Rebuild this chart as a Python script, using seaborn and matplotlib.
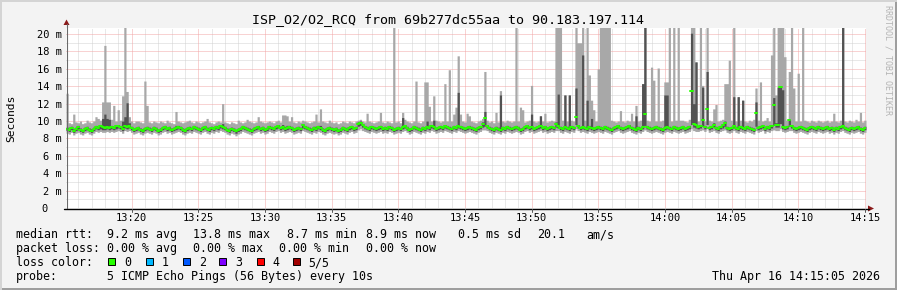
import numpy as np
import pandas as pd
import matplotlib
matplotlib.use("Agg")
import matplotlib.pyplot as plt
import matplotlib.transforms as mtransforms
from matplotlib.lines import Line2D
from matplotlib.patches import Rectangle, Polygon
import seaborn as sns

# ---------------- data ----------------
title = "ISP_O2/O2_RCQ from 69b277dc55aa to 90.183.197.114"
start_clock = "13:15:05"
end_clock = "14:15:05"
step_seconds = 10
x_tick_labels = ["13:20", "13:25", "13:30", "13:35", "13:40", "13:45",
                 "13:50", "13:55", "14:00", "14:05", "14:10", "14:15"]
y_tick_values = [0, 2, 4, 6, 8, 10, 12, 14, 16, 18, 20]
y_tick_labels = ["0", "2 m", "4 m", "6 m", "8 m", "10 m", "12 m", "14 m",
                 "16 m", "18 m", "20 m"]
y_label = "Seconds"
rtt_label = "median rtt:"
rtt_stats = ["9.2 ms avg", "13.8 ms max", "8.7 ms min", "8.9 ms now",
             "0.5 ms sd", "20.1", "am/s"]
loss_label = "packet loss:"
loss_stats = ["0.00 % avg", "0.00 % max", "0.00 % min", "0.00 % now"]
loss_color_label = "loss color:"
loss_names = ["0", "1", "2", "3", "4", "5/5"]
loss_colors = ["#26ff00", "#00b8ff", "#0059ff", "#7e00ff", "#ff0000", "#a10000"]
probe_label = "probe:"
probe_text = "5 ICMP Echo Pings (56 Bytes) every 10s"
timestamp = "Thu Apr 16 14:15:05 2026"
credit = "RRDTOOL / TOBI OETIKER"

# ping values per 10 s step, in units of 0.1 ms (sorted pings: min, 2nd, median, 4th, max)
median_01ms = [
    91, 90, 92, 89, 91, 93, 90, 88, 91, 92, 90, 89, 91, 93, 92, 94, 93, 92, 93, 92,
    93, 92, 94, 94, 93, 91, 94, 93, 94, 92, 90, 91, 92, 90, 89, 91, 92, 91, 90, 92,
    91, 89, 90, 92, 93, 91, 92, 90, 91, 92, 93, 92, 90, 89, 91, 92, 91, 93, 92, 91,
    90, 92, 93, 91, 90, 92, 91, 93, 92, 94, 93, 92, 90, 89, 91, 90, 88, 90, 91, 93,
    92, 91, 90, 89, 91, 92, 93, 91, 92, 90, 91, 93, 92, 91, 93, 94, 92, 93, 91, 92,
    93, 92, 90, 91, 92, 91, 95, 93, 92, 91, 90, 92, 91, 93, 92, 90, 89, 91, 92, 91,
    90, 91, 89, 90, 92, 91, 90, 92, 93, 91, 92, 97, 98, 95, 93, 92, 91, 93, 92, 91,
    92, 93, 91, 92, 91, 93, 92, 90, 91, 92, 91, 93, 94, 92, 90, 91, 93, 92, 91, 90,
    92, 91, 93, 92, 94, 93, 91, 92, 93, 92, 94, 93, 92, 91, 93, 92, 94, 93, 92, 91,
    92, 93, 92, 91, 90, 92, 93, 97, 103, 94, 92, 91, 90, 92, 91, 90, 92, 91, 93, 92,
    91, 92, 93, 92, 90, 91, 93, 94, 92, 93, 91, 92, 93, 94, 92, 93, 91, 92, 93, 92,
    97, 94, 92, 91, 93, 92, 91, 93, 92, 105, 94, 92, 93, 92, 91, 93, 92, 91, 92, 93,
    92, 91, 93, 92, 91, 90, 92, 93, 94, 92, 91, 92, 93, 94, 92, 91, 90, 92, 91, 93,
    108, 93, 92, 91, 92, 93, 92, 91, 90, 92, 93, 92, 91, 93, 92, 91, 92, 93, 91, 92,
    93, 134, 97, 96, 93, 94, 101, 93, 114, 92, 93, 96, 92, 91, 93, 95, 98, 92, 91, 92,
    94, 92, 91, 93, 92, 91, 93, 92, 91, 90, 109, 92, 93, 94, 91, 93, 92, 94, 119, 96,
    95, 139, 93, 92, 93, 101, 94, 92, 91, 92, 93, 92, 91, 90, 92, 93, 92, 91, 93, 92,
    91, 92, 93, 91, 92, 90, 92, 91, 93, 94, 92, 91, 90, 92, 91, 92, 93, 91, 90, 92,
]
max_01ms = [
    132, 98, 97, 108, 99, 98, 100, 97, 98, 101, 99, 98, 100, 105, 103, 101, 122, 187, 122, 122,
    102, 118, 100, 113, 101, 129, 250, 134, 105, 100, 98, 100, 100, 99, 98, 146, 118, 99, 98, 100,
    99, 98, 100, 99, 98, 101, 99, 98, 97, 111, 100, 99, 98, 99, 100, 101, 99, 98, 100, 99,
    98, 99, 100, 103, 99, 98, 97, 99, 100, 99, 120, 99, 98, 97, 99, 98, 97, 101, 99, 98,
    99, 102, 100, 99, 98, 99, 105, 100, 99, 98, 99, 100, 99, 98, 100, 101, 99, 107, 107, 106,
    100, 105, 99, 98, 100, 99, 101, 100, 99, 98, 99, 100, 108, 99, 114, 100, 99, 98, 101, 99,
    98, 99, 97, 98, 100, 99, 98, 100, 99, 98, 100, 101, 102, 100, 99, 109, 100, 99, 98, 99,
    100, 110, 99, 98, 100, 99, 98, 250, 99, 100, 98, 110, 102, 100, 99, 98, 100, 146, 99, 98,
    100, 145, 145, 117, 100, 129, 101, 100, 99, 100, 143, 100, 159, 100, 108, 116, 175, 108, 100, 99,
    109, 106, 100, 99, 98, 100, 101, 103, 157, 101, 99, 100, 98, 110, 99, 135, 100, 99, 101, 100,
    99, 100, 250, 100, 116, 113, 99, 100, 101, 141, 100, 99, 100, 106, 100, 109, 99, 100, 101, 100,
    250, 250, 250, 101, 130, 100, 130, 101, 100, 250, 190, 190, 250, 101, 250, 153, 124, 113, 100, 160,
    250, 250, 250, 250, 250, 101, 100, 99, 100, 112, 100, 99, 101, 100, 109, 100, 118, 100, 101, 143,
    250, 101, 100, 162, 147, 100, 161, 100, 101, 145, 145, 250, 100, 250, 101, 250, 101, 101, 100, 99,
    102, 250, 250, 168, 100, 250, 141, 100, 250, 101, 100, 114, 119, 100, 101, 102, 143, 143, 170, 101,
    250, 100, 128, 101, 124, 100, 99, 101, 100, 102, 138, 101, 145, 100, 101, 104, 100, 176, 250, 130,
    250, 250, 250, 174, 101, 157, 250, 138, 100, 155, 100, 250, 101, 100, 99, 101, 100, 99, 101, 100,
    99, 100, 101, 99, 100, 109, 100, 99, 101, 250, 100, 99, 101, 100, 99, 102, 100, 110, 99, 101,
]
high_01ms = [
    93, 92, 94, 91, 93, 95, 92, 90, 93, 94, 92, 91, 93, 95, 94, 96, 103, 108, 103, 102,
    95, 94, 96, 96, 95, 100, 105, 121, 98, 94, 92, 93, 94, 92, 91, 93, 94, 93, 92, 94,
    93, 91, 92, 94, 95, 93, 94, 92, 93, 95, 95, 94, 92, 91, 93, 94, 93, 95, 94, 93,
    92, 94, 95, 93, 92, 94, 93, 95, 94, 96, 97, 94, 92, 91, 93, 92, 90, 92, 93, 95,
    94, 93, 92, 91, 93, 94, 95, 93, 94, 92, 93, 95, 94, 93, 95, 96, 94, 96, 94, 95,
    95, 94, 92, 93, 94, 93, 97, 95, 94, 93, 92, 94, 94, 95, 95, 92, 91, 93, 94, 93,
    92, 93, 91, 92, 94, 93, 92, 94, 95, 93, 94, 99, 100, 97, 95, 94, 93, 95, 94, 93,
    94, 95, 93, 94, 93, 95, 94, 92, 93, 94, 93, 104, 96, 94, 92, 93, 95, 94, 93, 92,
    94, 93, 100, 94, 96, 101, 93, 94, 95, 94, 96, 95, 94, 93, 95, 94, 133, 95, 94, 93,
    94, 95, 94, 93, 92, 94, 95, 99, 111, 96, 94, 93, 92, 94, 93, 130, 94, 93, 95, 94,
    93, 94, 95, 94, 92, 93, 95, 96, 94, 108, 93, 94, 95, 106, 94, 95, 93, 94, 95, 94,
    99, 131, 94, 93, 130, 94, 130, 95, 94, 138, 96, 94, 176, 94, 124, 95, 103, 93, 94, 95,
    94, 93, 95, 94, 93, 92, 94, 95, 96, 94, 93, 94, 95, 96, 94, 93, 106, 94, 93, 143,
    250, 95, 94, 93, 94, 95, 94, 93, 92, 130, 130, 94, 93, 95, 94, 93, 94, 95, 93, 94,
    95, 201, 120, 168, 95, 96, 139, 95, 157, 94, 95, 98, 94, 93, 95, 97, 100, 94, 93, 94,
    128, 94, 128, 95, 124, 93, 95, 94, 93, 92, 122, 94, 95, 96, 93, 95, 94, 96, 127, 98,
    139, 139, 136, 94, 95, 102, 96, 94, 93, 94, 95, 94, 93, 92, 94, 95, 94, 93, 95, 94,
    93, 94, 95, 93, 94, 92, 94, 93, 95, 250, 94, 93, 92, 94, 93, 94, 95, 93, 92, 94,
]
low_01ms = [
    89, 88, 90, 87, 89, 90, 88, 87, 89, 90, 88, 87, 89, 91, 90, 91, 90, 90, 91, 90,
    91, 90, 91, 92, 91, 89, 92, 91, 92, 90, 88, 89, 90, 88, 87, 89, 90, 89, 88, 90,
    89, 87, 88, 90, 91, 89, 90, 88, 89, 90, 91, 90, 88, 87, 89, 90, 89, 91, 90, 89,
    88, 90, 91, 89, 88, 90, 89, 91, 90, 92, 91, 90, 88, 87, 89, 88, 86, 88, 89, 91,
    90, 89, 88, 87, 89, 90, 91, 89, 90, 88, 89, 91, 90, 89, 91, 92, 90, 91, 89, 90,
    91, 90, 88, 89, 90, 89, 92, 91, 90, 89, 88, 90, 89, 91, 90, 88, 87, 89, 90, 89,
    88, 89, 87, 88, 90, 89, 88, 90, 91, 89, 90, 94, 95, 93, 91, 90, 89, 91, 90, 89,
    90, 91, 89, 90, 89, 91, 90, 88, 89, 90, 89, 91, 92, 90, 88, 89, 91, 90, 89, 88,
    90, 89, 91, 90, 92, 91, 89, 90, 91, 90, 92, 91, 90, 89, 91, 90, 92, 91, 90, 89,
    90, 91, 90, 89, 88, 90, 91, 93, 94, 92, 90, 89, 88, 90, 89, 88, 90, 89, 91, 90,
    89, 90, 91, 90, 88, 89, 91, 92, 90, 91, 89, 90, 91, 92, 90, 91, 89, 90, 91, 90,
    93, 92, 90, 89, 91, 90, 89, 91, 90, 96, 92, 90, 91, 90, 89, 91, 90, 89, 90, 91,
    90, 89, 91, 90, 89, 88, 90, 91, 92, 90, 89, 90, 91, 92, 90, 89, 88, 90, 89, 91,
    95, 91, 90, 89, 90, 91, 90, 89, 88, 90, 91, 90, 89, 91, 90, 89, 90, 91, 89, 90,
    91, 96, 93, 92, 91, 92, 94, 91, 96, 90, 91, 93, 90, 89, 91, 92, 94, 90, 89, 90,
    92, 90, 89, 91, 90, 89, 91, 90, 89, 88, 94, 90, 91, 92, 89, 91, 90, 92, 95, 93,
    93, 97, 91, 90, 91, 94, 92, 90, 89, 90, 91, 90, 89, 88, 90, 91, 90, 89, 91, 90,
    89, 90, 91, 89, 90, 88, 90, 89, 91, 92, 90, 89, 88, 90, 89, 90, 91, 89, 88, 90,
]
min_01ms = [
    86, 85, 87, 84, 86, 87, 85, 84, 86, 87, 85, 84, 86, 88, 87, 88, 87, 87, 88, 87,
    88, 87, 88, 89, 88, 86, 89, 88, 89, 87, 85, 86, 87, 85, 84, 86, 87, 86, 85, 87,
    86, 84, 85, 87, 88, 86, 87, 85, 86, 87, 88, 87, 85, 84, 86, 87, 86, 88, 87, 86,
    85, 87, 88, 86, 85, 87, 86, 88, 87, 89, 88, 87, 85, 84, 86, 85, 83, 85, 86, 88,
    87, 86, 85, 84, 86, 87, 88, 86, 87, 85, 86, 88, 87, 86, 88, 89, 87, 88, 86, 87,
    88, 87, 85, 86, 87, 86, 89, 88, 87, 86, 85, 87, 86, 88, 87, 85, 84, 86, 87, 86,
    85, 86, 84, 85, 87, 86, 85, 87, 88, 86, 87, 90, 91, 89, 88, 87, 86, 88, 87, 86,
    87, 88, 86, 87, 86, 88, 87, 85, 86, 87, 86, 88, 89, 87, 85, 86, 88, 87, 86, 85,
    87, 86, 88, 87, 89, 88, 86, 87, 88, 87, 89, 88, 87, 86, 88, 87, 89, 88, 87, 86,
    87, 88, 87, 86, 85, 87, 88, 90, 90, 89, 87, 86, 85, 87, 86, 85, 87, 86, 88, 87,
    86, 87, 88, 87, 85, 86, 88, 89, 87, 88, 86, 87, 88, 89, 87, 88, 86, 87, 88, 87,
    89, 89, 87, 86, 88, 87, 86, 88, 87, 91, 89, 87, 88, 87, 86, 88, 87, 86, 87, 88,
    87, 86, 88, 87, 86, 85, 87, 88, 89, 87, 86, 87, 88, 89, 87, 86, 85, 87, 86, 88,
    90, 88, 87, 86, 87, 88, 87, 86, 85, 87, 88, 87, 86, 88, 87, 86, 87, 88, 86, 87,
    88, 91, 89, 88, 88, 89, 90, 88, 91, 87, 88, 89, 87, 86, 88, 89, 90, 87, 86, 87,
    89, 87, 86, 88, 87, 86, 88, 87, 86, 85, 89, 87, 88, 89, 86, 88, 87, 89, 90, 89,
    89, 91, 88, 87, 88, 89, 89, 87, 86, 87, 88, 87, 86, 85, 87, 88, 87, 86, 88, 87,
    86, 87, 88, 86, 87, 85, 87, 86, 88, 89, 87, 86, 85, 87, 86, 87, 88, 86, 85, 87,
]

# ---------------- helpers ----------------
def clock_seconds(s):
    parts = [int(p) for p in s.split(":")]
    while len(parts) < 3:
        parts.append(0)
    return parts[0] * 3600 + parts[1] * 60 + parts[2]

t_start = clock_seconds(start_clock)
total = clock_seconds(end_clock) - t_start
p_min = np.array(min_01ms) / 10.0
p_low = np.array(low_01ms) / 10.0
p_med = np.array(median_01ms) / 10.0
p_high = np.array(high_01ms) / 10.0
p_max = np.array(max_01ms) / 10.0
n = len(p_med)
t = np.arange(n) * step_seconds

W, H = 897, 290
MONO = "DejaVu Sans Mono"
Y_TOP = 20.7

sns.set_style("white")
fig = plt.figure(figsize=(W / 100, H / 100), dpi=100)
fig.patch.set_facecolor("#f3f3f3")


def fx(px):
    return px / W


def fy(py):
    return 1 - py / H


# frame shading
fig.add_artist(Rectangle((0, 0), 1, fy(288), transform=fig.transFigure, color="#9e9e9e", lw=0))
fig.add_artist(Rectangle((fx(895), 0), fx(2), 1, transform=fig.transFigure, color="#9e9e9e", lw=0))
fig.add_artist(Rectangle((0, fy(2)), 1, 2 / H, transform=fig.transFigure, color="#d4d4d4", lw=0))
fig.add_artist(Rectangle((0, 0), fx(2), 1, transform=fig.transFigure, color="#d4d4d4", lw=0))

ax = fig.add_axes([fx(66), fy(208), 800 / W, 180 / H])
ax.set_facecolor("white")
for sp in ax.spines.values():
    sp.set_visible(False)
ax.set_xlim(0, total)
ax.set_ylim(0, Y_TOP)

# grid
first_min = (60 - t_start % 60) % 60
first_5min = (300 - t_start % 300) % 300
minor_x = [v for v in range(first_min, total, 60) if (v - first_5min) % 300 != 0]
major_x = list(range(first_5min, total, 300))
minor_y = [v for v in range(1, int(Y_TOP) + 1) if v % 2 == 1]
major_y = [v for v in y_tick_values if v > 0]
dots = (0, (1, 1))
ax.vlines(minor_x, 0, Y_TOP, colors="#d2d2d2", linestyles=dots, lw=0.72, zorder=0)
ax.hlines(minor_y, 0, total, colors="#d2d2d2", linestyles=dots, lw=0.72, zorder=0)
ax.vlines(major_x, 0, Y_TOP, colors="#f2a6a6", linestyles=dots, lw=0.72, zorder=1)
ax.hlines(major_y, 0, total, colors="#f2a6a6", linestyles=dots, lw=0.72, zorder=1)

# smoke
xe = np.append(t, total)


def ext(a):
    return np.append(a, a[-1])


ax.fill_between(xe, ext(p_min), ext(p_max), step="post", color="#a8a8a8", lw=0, zorder=2)
ax.fill_between(xe, ext(p_low), ext(p_high), step="post", color="#525252", lw=0, zorder=3)

# median markers (one short segment per step)
med_df = pd.DataFrame({
    "t": np.concatenate([t, t + step_seconds]),
    "ms": np.concatenate([p_med, p_med]),
    "unit": np.concatenate([np.arange(n), np.arange(n)]),
})
sns.lineplot(data=med_df, x="t", y="ms", units="unit", estimator=None, sort=False,
             color=loss_colors[0], linewidth=1.45, ax=ax, legend=False, zorder=4)
ax.set_xticks([])
ax.set_yticks([])
ax.set_xlabel("")
ax.set_ylabel("")

# axes lines and arrows
fig.add_artist(Line2D([fx(66.5), fx(66.5)], [fy(208), fy(24)], color="#6a6a6a", lw=0.8))
fig.add_artist(Line2D([fx(64), fx(869)], [fy(208.5), fy(208.5)], color="black", lw=1.0))
fig.add_artist(Polygon([(fx(63.5), fy(25)), (fx(69.5), fy(25)), (fx(66.5), fy(19.5))],
                       closed=True, color="#8b1a1a", lw=0))
fig.add_artist(Polygon([(fx(868), fy(205.5)), (fx(868), fy(211.5)), (fx(874), fy(208.5))],
                       closed=True, color="#8b1a1a", lw=0))

# x tick marks + labels
bx = mtransforms.blended_transform_factory(ax.transData, fig.transFigure)
for lab in x_tick_labels:
    xv = clock_seconds(lab) - t_start
    fig.add_artist(Line2D([xv, xv], [fy(209), fy(211.5)], transform=bx, color="#555555", lw=0.7))
    fig.text(xv, fy(221), lab, transform=bx, ha="center", va="baseline",
             fontsize=7.5, family=MONO, color="black")

# y tick labels
by = mtransforms.blended_transform_factory(fig.transFigure, ax.transData)
for v, lab in zip(y_tick_values, y_tick_labels):
    if lab.strip() == "0":
        fig.text(fx(44.5), v, lab, transform=by, ha="center", va="center_baseline",
                 fontsize=7.5, family=MONO, color="black")
    else:
        fig.text(fx(61.5), v, lab, transform=by, ha="right", va="center_baseline",
                 fontsize=7.5, family=MONO, color="black")

fig.text(fx(11.5), fy(118), y_label, rotation=90, ha="center", va="center",
         fontsize=8.1, family=MONO, color="black")

# title
fig.text(fx(448), fy(23), title, ha="center", va="baseline", fontsize=9.6,
         family=MONO, color="black")

# credit
fig.text(fx(888), fy(5), credit, rotation=270, ha="center", va="top",
         fontsize=6.0, family=MONO, color="#b4b4b4")

# legend block
LF = 8.4


def leg(x, y, s, ha="left"):
    fig.text(fx(x), fy(y), s, ha=ha, va="baseline", fontsize=LF, family=MONO, color="black")


leg(16, 238, rtt_label)
for x, s in zip([107.3, 193.3, 286.7, 365.7, 458.3, 537.3, 586.7], rtt_stats):
    leg(x, 238, s)
leg(16, 252, loss_label)
for x, s in zip([107.3, 193.3, 279.3, 365.7], loss_stats):
    leg(x, 252, s)
leg(16, 266, loss_color_label)
for sx, lx, name, col in zip([108.3, 145.7, 182.7, 219.3, 256.7, 293.3],
                             [124, 161.7, 198.7, 235, 272.3, 308.3],
                             loss_names, loss_colors):
    fig.add_artist(Rectangle((fx(sx), fy(265)), 7 / W, 7 / H, transform=fig.transFigure,
                             facecolor=col, edgecolor="black", lw=0.7))
    leg(lx, 266, name)
leg(16, 280, probe_label)
leg(107.3, 280, probe_text)
leg(880, 280, timestamp, ha="right")

fig.savefig("out.png", dpi=100, facecolor=fig.get_facecolor())
